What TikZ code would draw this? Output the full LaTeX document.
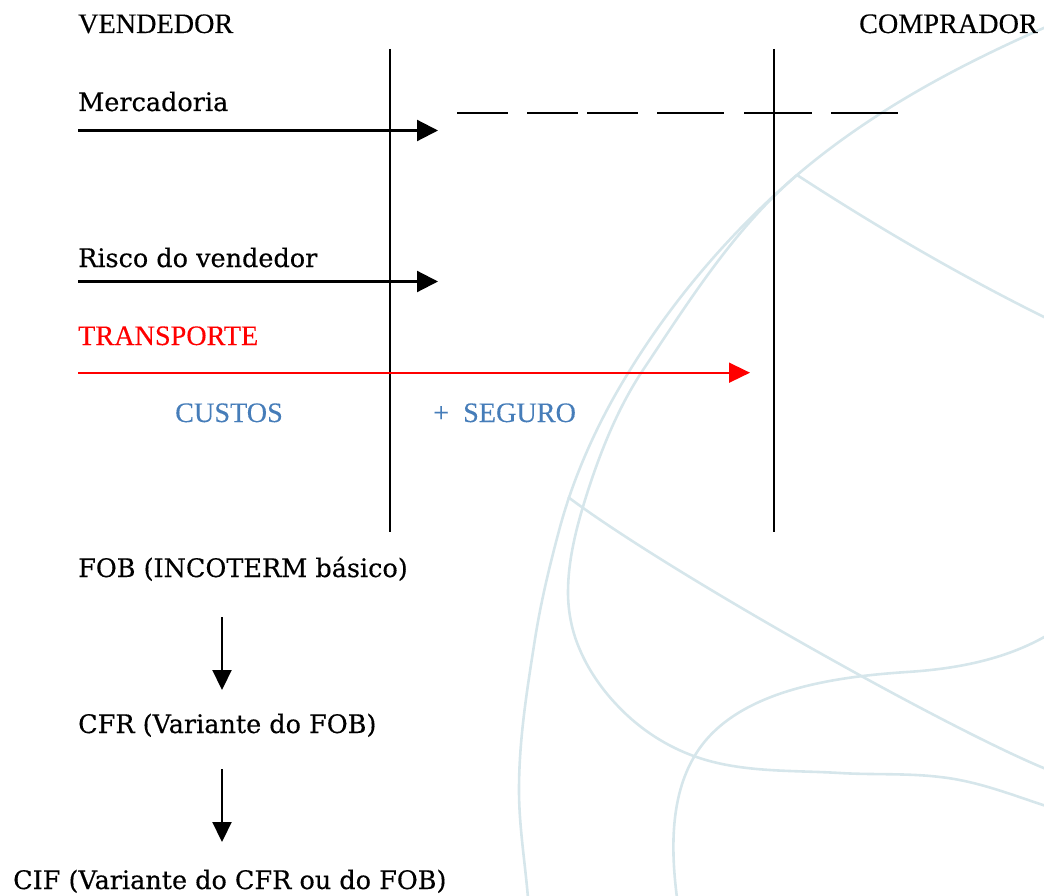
\documentclass[tikz,border=0pt]{standalone}
\usepackage{fontspec}
\setmainfont{Liberation Serif}[FakeBold=0.25]
\newfontfamily\lucida{DejaVu Serif}[FakeBold=0.4]
\usetikzlibrary{arrows.meta}
\definecolor{bgline}{RGB}{214,230,235}
\definecolor{custblue}{RGB}{70,125,185}
\tikzset{
  capA/.style={inner sep=0pt, anchor=base west, font=\fontsize{28.2}{30}\selectfont},
  capB/.style={inner sep=0pt, anchor=base west, font=\lucida\fontsize{25.5}{28}\selectfont},
  sepline/.style={line width=2.2pt, black},
  harrow/.style={line width=2.2pt, -{Triangle[length=21pt,width=21pt]}},
  varrow/.style={line width=2.2pt, -{Triangle[length=20pt,width=19pt]}},
  dashseg/.style={line width=2.2pt},
  bg/.style={draw=bgline, line width=2.6pt}
}
\begin{document}
\begin{tikzpicture}[x=1pt,y=-1pt]
\useasboundingbox (0,0) rectangle (1044,896);
% background decoration
\draw[bg] (1046,27) .. controls (957,66) and (871,112) .. (797,175)
  .. controls (732,231) and (675,297) .. (630,370)
  .. controls (600,418) and (575,472) .. (560,527)
  .. controls (550,564) and (541,601) .. (535,639)
  .. controls (527,690) and (519,739) .. (519,790)
  .. controls (519,826) and (525,862) .. (528,898);
\draw[bg] (797,175) .. controls (734,229) and (689,301) .. (643,370)
  .. controls (617,409) and (599,455) .. (585,500)
  .. controls (576,529) and (568,561) .. (568,592)
  .. controls (568,612) and (572,632) .. (580,650)
  .. controls (588,669) and (601,688) .. (615,703)
  .. controls (636,726) and (662,744) .. (691,755)
  .. controls (738,773) and (790,770) .. (840,773)
  .. controls (873,775) and (907,773) .. (940,777)
  .. controls (977,781) and (1011,794.5) .. (1046,806);
\draw[bg] (797,175) .. controls (880,229) and (963,277) .. (1046,318);
\draw[bg] (568,497) .. controls (668,572) and (946,728) .. (1046,769);
\draw[bg] (1046,636) .. controls (1004,660) and (955,669) .. (907,672)
  .. controls (831,677) and (732,691) .. (694,757)
  .. controls (670,798) and (671,851) .. (677,898);
% texts
\node[capA] (vend) at (78,33) {VENDEDOR};
\node[capA, anchor=base east] (comp) at (1038,33) {COMPRADOR};
\node[capB] (merc) at (78,111) {Mercadoria};
\node[capB] (risco) at (78,267) {Risco do vendedor};
\node[capA, text=red] (transp) at (78,345) {TRANSPORTE};
\node[capA, text=custblue] (custos) at (175,422) {CUSTOS};
\node[capA, text=custblue] (seguro) at (433,422) {+\hspace{7pt} SEGURO};
\node[capB] (fob) at (78,577) {FOB (INCOTERM básico)};
\node[capB] (cfr) at (78,733) {CFR (Variante do FOB)};
\node[capB] (cif) at (13,889) {CIF (Variante do CFR ou do FOB)};
% separators
\coordinate (v1t) at (390,49); \coordinate (v1b) at (390,532);
\coordinate (v2t) at (774,49); \coordinate (v2b) at (774,532);
\draw[sepline] (v1t) -- (v1b);
\draw[sepline] (v2t) -- (v2b);
% horizontal arrows
\coordinate (m0) at (78,130.5); \coordinate (m1) at (438,130.5);
\coordinate (r0) at (78,281.5); \coordinate (r1) at (438,281.5);
\coordinate (t0) at (78,372.7); \coordinate (t1) at (750,372.7);
\draw[harrow] (m0) -- (m1);
\draw[harrow] (r0) -- (r1);
\draw[harrow, red, line width=1.6pt, -{Triangle[length=21pt,width=20pt]}] (t0) -- (t1);
% dashed goods line
\foreach \a/\b in {457/508, 527/578, 587/638, 657/724, 744/812, 831/898}
  \draw[dashseg] (\a,113) -- (\b,113);
% vertical arrows
\coordinate (d1a) at (222,617); \coordinate (d1b) at (222,690);
\coordinate (d2a) at (222,769); \coordinate (d2b) at (222,842);
\draw[varrow] (d1a) -- (d1b);
\draw[varrow] (d2a) -- (d2b);
\end{tikzpicture}
\end{document}
